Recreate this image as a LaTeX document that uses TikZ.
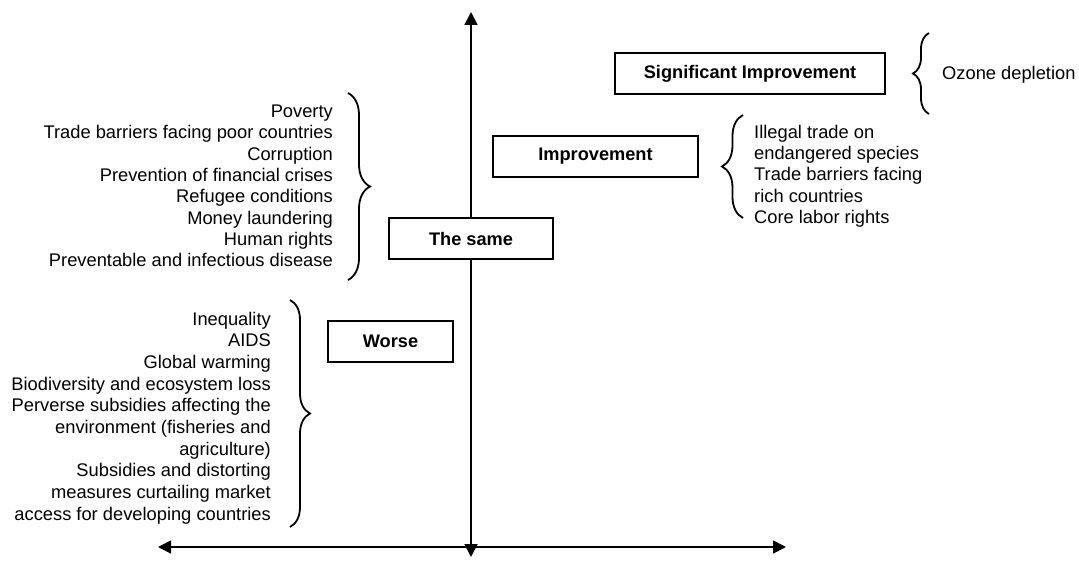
\documentclass[tikz,border=0pt]{standalone}
\usepackage{fontspec}
\setmainfont{Liberation Sans}
\usetikzlibrary{decorations.pathreplacing,arrows.meta}
\begin{document}
\begin{tikzpicture}[x=1pt,y=-1pt,
 lvl/.style={draw,line width=1.6pt,fill=white,inner sep=0pt,font=\fontsize{18.2}{21}\selectfont\bfseries},
 items/.style={inner sep=0pt,font=\fontsize{18.3}{#1}\selectfont},
 items/.default={21.3},
 brc/.style={decorate,decoration={brace,amplitude=#1},line width=1.8pt},
 axisline/.style={line width=1.8pt,{Triangle[length=13pt,width=13pt]}-{Triangle[length=13pt,width=13pt]}}]
\useasboundingbox (0,0) rectangle (1079,564);
% axes
\coordinate (vt) at (471,12);
\coordinate (vb) at (471,557);
\coordinate (hl) at (158,547);
\coordinate (hr) at (786,547);
\draw[axisline] (vb) -- (vt);
\draw[axisline] (hl) -- (hr);
% level boxes
\node[lvl,minimum width=270pt,minimum height=41pt] (sig) at (750,73.5) {Significant Improvement};
\node[lvl,minimum width=205pt,minimum height=41pt] (imp) at (595.5,156.5) {Improvement};
\node[lvl,minimum width=164pt,minimum height=41pt] (same) at (471,238.5) {The same};
\node[lvl,minimum width=125pt,minimum height=41pt] (worse) at (390.5,341.5) {Worse};
% item lists
\node[items,align=right,anchor=east] (samelist) at (333,186) {Poverty\\Trade barriers facing poor countries\\Corruption\\Prevention of financial crises\\Refugee conditions\\Money laundering\\Human rights\\Preventable and infectious disease};
\node[items=21.7,align=right,anchor=east] (worselist) at (271,418) {Inequality\\AIDS\\Global warming\\Biodiversity and ecosystem loss\\Perverse subsidies affecting the\\environment (fisheries and\\agriculture)\\Subsidies and distorting\\measures curtailing market\\access for developing countries};
\node[items,align=left,anchor=west] (implist) at (754,176) {Illegal trade on\\endangered species\\Trade barriers facing\\rich countries\\Core labor rights};
\node[items,anchor=west] (ozlist) at (942,75) {Ozone depletion};
% braces
\coordinate (sb1) at (348,93);  \coordinate (sb2) at (348,280);
\coordinate (wb1) at (290,300); \coordinate (wb2) at (290,527);
\coordinate (ib1) at (743,218); \coordinate (ib2) at (743,115);
\coordinate (ob1) at (929,114); \coordinate (ob2) at (929,33);
\draw[brc=22pt] (sb1) -- (sb2);
\draw[brc=20pt] (wb1) -- (wb2);
\draw[brc=21pt] (ib1) -- (ib2);
\draw[brc=16pt] (ob1) -- (ob2);
\end{tikzpicture}
\end{document}
